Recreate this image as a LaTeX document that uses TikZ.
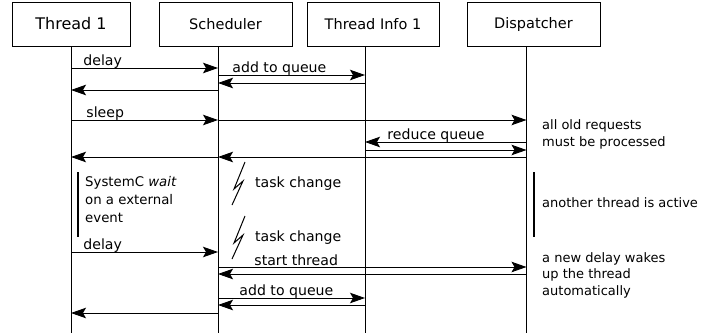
\documentclass[tikz,border=0pt]{standalone}
\usepackage{fontspec}
\setmainfont{DejaVu Sans}
\usetikzlibrary{arrows.meta,positioning}

\begin{document}
\begin{tikzpicture}[x=1pt,y=-1pt,>={Stealth[length=15pt,width=10.5pt,inset=3pt]},
 head/.style={draw,line width=1pt,outer sep=0pt,inner sep=0pt,minimum width=133pt,minimum height=44pt,font=\fontsize{14.5}{17}\selectfont},
 life/.style={line width=0.9pt},
 msg/.style={->,line width=0.9pt},
 lbl/.style={anchor=base west,inner sep=0pt,yshift=3pt,font=\fontsize{14.1}{17}\selectfont},
 note/.style={anchor=north west,inner sep=0pt,align=left,font=\fontsize{13}{17}\selectfont},
 bar/.style={line width=2pt},
 bolt/.style={line width=1pt}]
\useasboundingbox (0,0) rectangle (719,335);
% object boxes
\node[head,minimum width=118pt,font=\fontsize{16}{19}\selectfont] (t1) at (71,24) {Thread 1};
\node[head,right=29pt of t1] (sch) {Scheduler};
\node[head,right=15pt of sch,minimum width=132pt] (info) {Thread Info 1};
\node[head,right=28pt of info] (disp) {Dispatcher};
% lifelines
\coordinate (l1) at (t1.south);
\coordinate (l2) at ([xshift=-7.5pt]sch.south);
\coordinate (l3) at ([xshift=-8pt]info.south);
\coordinate (l4) at ([xshift=-7pt]disp.south);
\foreach \l in {l1,l2,l3,l4}
 \draw[life] (\l) -- (\l |- 0,333);
% first delay
\draw[msg] (l1|-0,68) -- node[lbl,pos=0,xshift=12pt]{delay} (l2|-0,68);
\draw[msg] (l2|-0,75) -- node[lbl,pos=0,xshift=14pt]{add to queue} (l3|-0,75);
\draw[msg] (l3|-0,83) -- (l2|-0,83);
\draw[msg] (l2|-0,90) -- (l1|-0,90);
% sleep
\draw[msg] (l1|-0,120) -- node[lbl,pos=0,xshift=15pt]{sleep} (l2|-0,120);
\draw[msg] (l2|-0,120) -- (l4|-0,120);
\draw[msg] (l4|-0,142) -- node[lbl,pos=1,xshift=22pt]{reduce queue} (l3|-0,142);
\draw[msg] (l3|-0,150) -- (l4|-0,150);
\draw[msg] (l4|-0,157) -- (l2|-0,157);
\draw[msg] (l2|-0,157) -- (l1|-0,157);
% waiting
\draw[bar] (78,172) -- (78,237);
\node[note,font=\fontsize{13.3}{18}\selectfont] (wait) at (85,176) {SystemC \textit{wait}\\on a external\\event};
\foreach \dy/\nm in {0/tc1,54/tc2}{
 \draw[bolt] (245,162+\dy) -- (234,189+\dy) -- (243,181+\dy) -- (232,205+\dy);
 \node[lbl,yshift=-3pt] (\nm) at (255,187+\dy) {task change};
}
\draw[bar] (534,172) -- (534,237);
% second delay
\draw[msg] (l1|-0,252) -- node[lbl,pos=0,xshift=12pt]{delay} (l2|-0,252);
\draw[msg] (l2|-0,267) -- node[lbl,pos=0,xshift=36pt,yshift=-1pt]{start thread} (l4|-0,267);
\draw[msg] (l4|-0,274) -- (l2|-0,274);
\draw[msg] (l2|-0,298) -- node[lbl,pos=0,xshift=21pt]{add to queue} (l3|-0,298);
\draw[msg] (l3|-0,305) -- (l2|-0,305);
\draw[msg] (l2|-0,313) -- (l1|-0,313);
% notes
\node[note] (old) at (542,119) {all old requests\\must be processed};
\node[note,anchor=base west] (active) at (542,207) {another thread is active};
\node[note,font=\fontsize{13}{16.5}\selectfont] (wake) at (542,252) {a new delay wakes\\up the thread\\automatically};
\end{tikzpicture}
\end{document}
